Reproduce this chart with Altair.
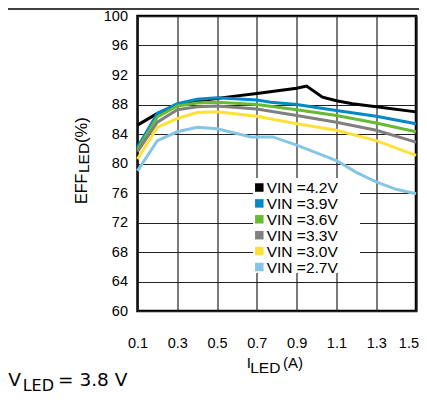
import altair as alt
import pandas as pd

labels = ["VIN =4.2V", "VIN =3.9V", "VIN =3.6V", "VIN =3.3V", "VIN =3.0V", "VIN =2.7V"]
colors = ["#000000", "#0088C8", "#66BB33", "#808080", "#FFE03A", "#85C5E5"]

x_42 = [0.1, 0.2, 0.3, 0.4, 0.5, 0.55, 0.7, 0.9, 0.95, 1.03, 1.1, 1.18, 1.3, 1.5]
y_42 = [85.2, 86.8, 87.9, 88.5, 88.8, 89.0, 89.5, 90.2, 90.5, 89.0, 88.5, 88.1, 87.7, 87.0]

x_39 = [0.1, 0.2, 0.3, 0.4, 0.5, 0.7, 0.77, 0.9, 1.1, 1.3, 1.5]
y_39 = [82.2, 86.8, 88.1, 88.7, 88.9, 88.6, 88.3, 88.0, 87.2, 86.4, 85.4]

x_36 = [0.1, 0.2, 0.3, 0.4, 0.5, 0.7, 0.9, 1.1, 1.3, 1.5]
y_36 = [81.9, 86.3, 87.8, 88.2, 88.3, 88.0, 87.3, 86.5, 85.5, 84.3]

x_33 = [0.1, 0.2, 0.3, 0.4, 0.5, 0.7, 0.9, 1.1, 1.3, 1.5]
y_33 = [81.6, 85.6, 87.3, 87.7, 87.8, 87.4, 86.5, 85.6, 84.5, 82.9]

x_30 = [0.1, 0.2, 0.3, 0.4, 0.5, 0.7, 0.9, 1.1, 1.3, 1.5]
y_30 = [80.6, 84.9, 86.1, 86.9, 87.0, 86.4, 85.4, 84.5, 83.1, 81.1]

x_27 = [0.1, 0.2, 0.3, 0.4, 0.5, 0.67, 0.78, 0.9, 1.1, 1.2, 1.3, 1.4, 1.5]
y_27 = [79.0, 83.1, 84.3, 84.9, 84.7, 83.6, 83.6, 82.5, 80.4, 78.8, 77.5, 76.5, 75.9]

x_ticks = [0.1, 0.3, 0.5, 0.7, 0.9, 1.1, 1.3, 1.5]
y_ticks = [60, 64, 68, 72, 76, 80, 84, 88, 92, 96, 100]

series = [(x_42, y_42), (x_39, y_39), (x_36, y_36), (x_33, y_33), (x_30, y_30), (x_27, y_27)]
rows = []
for lab, (xs, ys) in zip(labels, series):
    for xv, yv in zip(xs, ys):
        rows.append({"series": lab, "x": xv, "y": yv})
df = pd.DataFrame(rows)
leg_df = pd.DataFrame({"series": labels})

FONT = "Liberation Sans"
color_scale = alt.Scale(domain=labels, range=colors)

lines = alt.Chart(df).mark_line(strokeWidth=3).encode(
    x=alt.X("x:Q", scale=alt.Scale(domain=[0.1, 1.5], nice=False, zero=False),
            axis=alt.Axis(values=x_ticks, format=".1f", title=None, grid=True,
                          gridColor="#222222", gridWidth=1.2, ticks=False, domain=False,
                          labelPadding=25, labelFontSize=14.5, labelFont=FONT,
                          labelColor="black", labelFlush=False,
                          labelAlign=alt.expr("datum.value >= 1.45 ? 'right' : 'center'"),
                          labelOffset=alt.expr("datum.value >= 1.45 ? 2.5 : 0"))),
    y=alt.Y("y:Q", scale=alt.Scale(domain=[60, 100], nice=False, zero=False),
            axis=alt.Axis(values=y_ticks, title=None, grid=True,
                          gridColor="#222222", gridWidth=1.2, ticks=False, domain=False,
                          labelPadding=10, labelFontSize=14.5, labelFont=FONT,
                          labelColor="black", labelFlush=False)),
    color=alt.Color("series:N", scale=color_scale, legend=None),
    detail="series:N",
)

one = pd.DataFrame({"t": [0]})

legend_bg = alt.Chart(one).mark_rect(color="white").encode(
    x=alt.value(115.5), x2=alt.value(222.5), y=alt.value(162), y2=alt.value(257))

leg_y = alt.Y("series:N", sort=labels,
              scale=alt.Scale(domain=labels, range=[171.5, 251], padding=0), axis=None)

legend_sym = alt.Chart(leg_df).mark_square(size=72, opacity=1).encode(
    x=alt.value(121.8), y=leg_y,
    color=alt.Color("series:N", scale=color_scale, legend=None))

legend_txt = alt.Chart(leg_df).mark_text(align="left", baseline="middle", fontSize=15.5,
                                         font=FONT, color="black", dy=0.5).encode(
    x=alt.value(129.2), y=leg_y, text="series:N")


def txt(s, x, y, size, angle=0, font=FONT):
    return alt.Chart(one).mark_text(text=s, font=font, fontSize=size, color="black",
                                    align="left", baseline="alphabetic", angle=angle).encode(
        x=alt.value(x), y=alt.value(y))


texts = [
    # x title I_LED(A)
    txt("I", 109.2, 352, 15),
    txt("LED", 112.7, 357, 15.5),
    txt("(A)", 145.5, 352, 15),
    # y title EFF_LED(%)
    txt("EFF", -50.8, 188, 16, 270),
    txt("LED", -48.3, 157, 15.5, 270),
    txt("(%)", -50.8, 127, 16.5, 270),
    # footnote V_LED = 3.8 V
    txt("V", -129.2, 370, 18.5, 0, "DejaVu Sans"),
    txt("LED", -114.8, 374.5, 16, 0, "DejaVu Sans"),
    txt("= 3.8 V", -79.5, 370, 18.5, 0, "DejaVu Sans"),
]

top_rule = alt.Chart(one).mark_rule(color="black", strokeWidth=1.5).encode(
    x=alt.value(-129.5), x2=alt.value(281.5), y=alt.value(-7))

chart = alt.layer(lines, legend_bg, legend_sym, legend_txt, top_rule, *texts).resolve_scale(
    y="independent"
).properties(
    width=278.5, height=295,
    autosize=alt.AutoSizeParams(type="none"),
    padding={"left": 129.5, "top": 8, "right": 3, "bottom": 82},
).configure_view(stroke="black", strokeWidth=2.5)

chart.save("out.html", embed_options={"renderer": "svg", "actions": False})
